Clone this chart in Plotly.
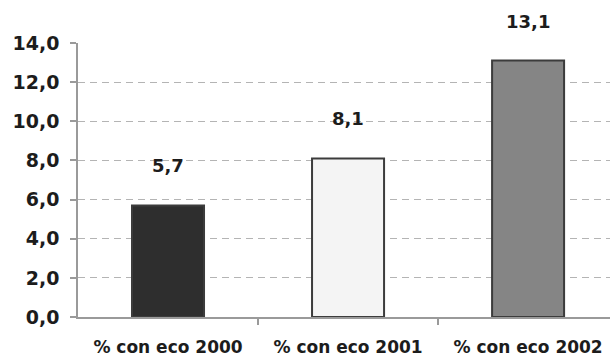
import plotly.graph_objects as go

# Data
categories = ["% con eco 2000", "% con eco 2001", "% con eco 2002"]
values = [5.7, 8.1, 13.1]
bar_colors = ["#2e2e2e", "#f4f4f4", "#858585"]
y_ticks = [0, 2, 4, 6, 8, 10, 12, 14]

font_family = "DejaVu Sans"
text_color = "#1c1c1c"
axis_color = "#9a9a9a"

positions = list(range(len(categories)))
boundaries = [p + 0.5 for p in positions]

fig = go.Figure()
fig.add_trace(
    go.Bar(
        x=positions,
        y=values,
        width=0.4,
        marker=dict(color=bar_colors, line=dict(color="#3c3c3c", width=2)),
        hoverinfo="skip",
    )
)

# Value labels above each bar
for pos, val in zip(positions, values):
    fig.add_annotation(
        x=pos,
        y=val,
        text="<b>" + f"{val:.1f}".replace(".", ",") + "</b>",
        showarrow=False,
        yanchor="bottom",
        yshift=27,
        font=dict(family=font_family, size=18, color=text_color),
    )

fig.update_layout(
    width=610,
    height=356,
    margin=dict(l=78, r=0, t=43, b=39),
    paper_bgcolor="white",
    plot_bgcolor="white",
    separators=",.",
    showlegend=False,
)

fig.update_xaxes(
    range=[-0.5, 2.455],
    tickvals=positions,
    ticktext=categories,
    showline=True,
    linecolor=axis_color,
    linewidth=1.5,
    ticks="",
    minor=dict(
        tickvals=boundaries,
        ticks="outside",
        ticklen=6,
        tickcolor=axis_color,
        tickwidth=1.5,
        showgrid=False,
    ),
    showgrid=False,
    zeroline=False,
    tickfont=dict(family=font_family, size=17, color=text_color, weight="bold"),
    ticklabelstandoff=14,
)

fig.update_yaxes(
    range=[0, 14],
    tickvals=y_ticks,
    tickformat=".1f",
    showline=True,
    linecolor=axis_color,
    linewidth=1.5,
    ticks="outside",
    ticklen=6,
    tickcolor=axis_color,
    tickwidth=1.5,
    showgrid=True,
    gridcolor="#b4b4b4",
    gridwidth=1.2,
    griddash="7px,5px",
    zeroline=False,
    tickfont=dict(family=font_family, size=19, color=text_color, weight="bold"),
    ticklabelstandoff=7,
)

fig.write_html("out.html")
